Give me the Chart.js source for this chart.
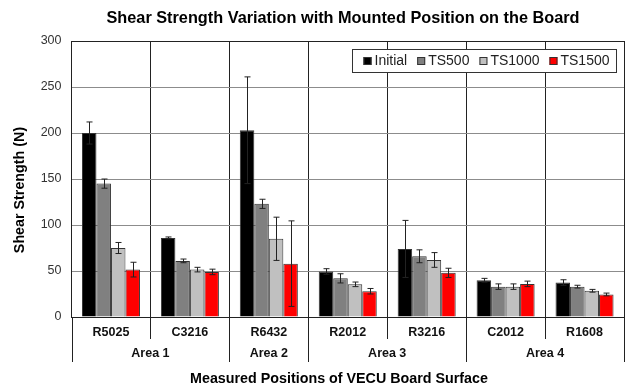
<!DOCTYPE html>
<html>
<head>
<meta charset="utf-8">
<script src="https://cdn.jsdelivr.net/npm/chart.js@4.4.1/dist/chart.umd.min.js"></script>
<style>
  body { margin: 0; background: #fff; }
  #wrap { width: 625px; height: 387px; }
</style>
</head>
<body>
<div id="wrap"><canvas id="myChart" width="625" height="387"></canvas></div>
<script>
// positions on the board
const positions = ['R5025', 'C3216', 'R6432', 'R2012', 'R3216', 'C2012', 'R1608'];
const areaNames = ['Area 1', 'Area 2', 'Area 3', 'Area 4'];
const areaSpans = [2, 1, 2, 2];
const yTicks = [0, 50, 100, 150, 200, 250, 300];

// shear strength (N)
const initialVals = [200, 86, 203, 49.5, 74, 40, 37.5];
const ts500Vals   = [145, 61, 123, 42, 66, 33, 33];
const ts1000Vals  = [75, 51.5, 85, 35.5, 62, 33, 28.5];
const ts1500Vals  = [51.5, 49, 58, 28, 48, 36, 24.5];

// error bar half-lengths
const initialErr = [12, 1, 58, 3, 31, 2, 3];
const ts500Err   = [5, 2, 5, 5, 7, 3, 1.5];
const ts1000Err  = [6, 2.5, 23.5, 2.5, 8, 3, 1.5];
const ts1500Err  = [8, 3, 46.5, 3, 5, 3, 1.5];

const seriesNames = ['Initial', 'TS500', 'TS1000', 'TS1500'];
const seriesColors = ['#000000', '#808080', '#c0c0c0', '#ff0000'];
const seriesVals = [initialVals, ts500Vals, ts1000Vals, ts1500Vals];
const seriesErr = [initialErr, ts500Err, ts1000Err, ts1500Err];

const FONT = 'Liberation Sans, Arial, sans-serif';

const extras = {
    id: 'extras',
    afterDatasetsDraw(chart) {
        const ctx = chart.ctx;
        const y = chart.scales.y;
        ctx.save();
        ctx.strokeStyle = '#222';
        ctx.lineWidth = 1;
        for (let d = 0; d < seriesVals.length; d++) {
            const meta = chart.getDatasetMeta(d);
            meta.data.forEach((bar, i) => {
                const v = seriesVals[d][i];
                const e = seriesErr[d][i];
                const x = Math.round(bar.x) + 0.5;
                const top = y.getPixelForValue(v + e);
                const bot = y.getPixelForValue(v - e);
                ctx.beginPath();
                ctx.moveTo(x, top); ctx.lineTo(x, bot);
                ctx.moveTo(x - 3, top); ctx.lineTo(x + 3, top);
                ctx.moveTo(x - 3, bot); ctx.lineTo(x + 3, bot);
                ctx.stroke();
            });
        }
        ctx.restore();
    },
    afterDraw(chart) {
        const ctx = chart.ctx;
        const area = chart.chartArea;
        const xs = chart.scales.x;
        ctx.save();

        // top frame line
        ctx.strokeStyle = '#222';
        ctx.lineWidth = 1;
        ctx.beginPath();
        ctx.moveTo(area.left, Math.round(area.top) + 0.5);
        ctx.lineTo(area.right, Math.round(area.top) + 0.5);
        ctx.stroke();

        // separators below the axis
        const bounds = [];
        for (let i = 0; i <= positions.length; i++) {
            let bx;
            if (i == 0) bx = area.left;
            else if (i == positions.length) bx = area.right;
            else bx = (xs.getPixelForValue(i - 1) + xs.getPixelForValue(i)) / 2;
            bounds.push(bx);
        }
        const areaEdges = [0];
        let acc = 0;
        for (let a = 0; a < areaSpans.length; a++) { acc += areaSpans[a]; areaEdges.push(acc); }
        ctx.strokeStyle = '#222';
        for (let i = 0; i < bounds.length; i++) {
            const isArea = areaEdges.includes(i);
            const bx = Math.round(bounds[i]) + 0.5;
            ctx.beginPath();
            ctx.moveTo(bx, area.bottom);
            ctx.lineTo(bx, isArea ? 362 : 339);
            ctx.stroke();
        }

        // area labels
        ctx.fillStyle = '#111';
        ctx.font = 'bold 12.5px ' + FONT;
        ctx.textAlign = 'center';
        ctx.textBaseline = 'middle';
        for (let a = 0; a < areaNames.length; a++) {
            const mid = (bounds[areaEdges[a]] + bounds[areaEdges[a + 1]]) / 2;
            ctx.fillText(areaNames[a], mid, 354);
        }

        // axis titles and chart title
        ctx.fillStyle = '#000';
        ctx.font = 'bold 14.3px ' + FONT;
        ctx.fillText('Measured Positions of VECU Board Surface', 339, 379);
        ctx.font = 'bold 16.3px ' + FONT;
        ctx.fillText('Shear Strength Variation with Mounted Position on the Board', 343, 18.5);
        ctx.save();
        ctx.translate(20, 190);
        ctx.rotate(-Math.PI / 2);
        ctx.font = 'bold 14.3px ' + FONT;
        ctx.fillText('Shear Strength (N)', 0, 0);
        ctx.restore();

        // legend box
        ctx.font = '14px ' + FONT;
        const sq = 8, gapText = 3, gapItem = 10, pad = 11;
        let w = pad;
        const widths = seriesNames.map(n => ctx.measureText(n).width);
        widths.forEach((tw, i) => { w += sq + gapText + tw + (i < widths.length - 1 ? gapItem : 0); });
        w += 7;
        const bx0 = Math.round(area.right - 8 - w) + 0.5;
        const by0 = 49.5, bh = 23;
        ctx.fillStyle = '#fff';
        ctx.fillRect(bx0, by0, w, bh);
        ctx.strokeStyle = '#333';
        ctx.strokeRect(bx0, by0, w, bh);
        let lx = bx0 + pad;
        ctx.textAlign = 'left';
        for (let i = 0; i < seriesNames.length; i++) {
            ctx.fillStyle = seriesColors[i];
            ctx.fillRect(lx, 57, sq, sq);
            ctx.strokeStyle = '#333';
            ctx.strokeRect(lx + 0.5, 57.5, sq - 1, sq - 1);
            ctx.fillStyle = '#222';
            ctx.fillText(seriesNames[i], lx + sq + gapText, 61.5);
            lx += sq + gapText + widths[i] + gapItem;
        }
        ctx.restore();
    }
};

const ctx = document.getElementById('myChart').getContext('2d');
const myChart = new Chart(ctx, {
    type: 'bar',
    data: {
        labels: positions,
        datasets: seriesNames.map((n, i) => ({
            label: n,
            data: seriesVals[i],
            backgroundColor: seriesColors[i],
            borderColor: '#333',
            borderWidth: 1,
            categoryPercentage: 0.735,
            barPercentage: 1.0
        }))
    },
    options: {
        responsive: false,
        animation: false,
        layout: { padding: { top: 41, right: 1, left: 0, bottom: 0 } },
        plugins: {
            legend: { display: false },
            title: { display: false },
            tooltip: { enabled: false }
        },
        scales: {
            x: {
                afterFit: (scale) => { scale.height = 70; },
                grid: { color: '#222', drawTicks: false, offset: true },
                border: { color: '#222' },
                ticks: {
                    color: '#111',
                    padding: 8,
                    font: { family: FONT, size: 12.5, weight: 'bold' }
                }
            },
            y: {
                min: 0,
                max: 300,
                afterFit: (scale) => { scale.width = 71.5; },
                afterBuildTicks: (scale) => { scale.ticks = yTicks.map(v => ({ value: v })); },
                grid: {
                    drawTicks: false,
                    color: (c) => c.tick && c.tick.value == 300 ? '#222' : '#8c8c8c'
                },
                border: { color: '#222' },
                ticks: {
                    color: '#333',
                    padding: 10,
                    font: { family: FONT, size: 12.5 }
                }
            }
        }
    },
    plugins: [extras]
});
</script>
</body>
</html>
